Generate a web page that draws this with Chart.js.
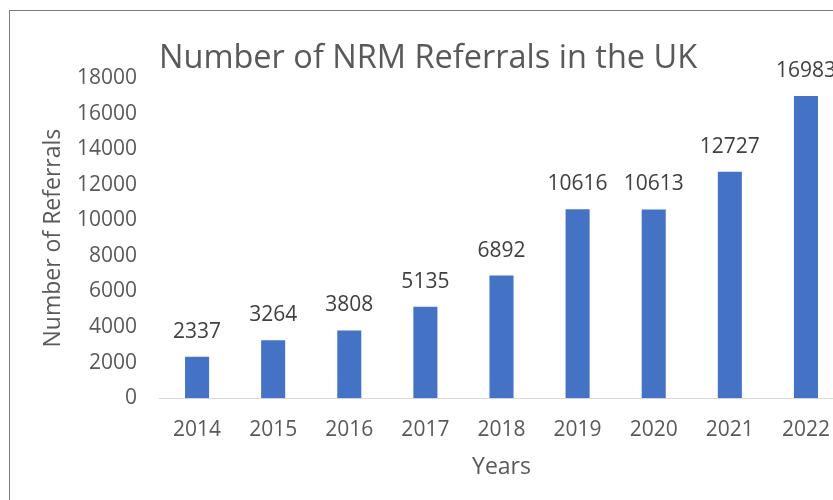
<!DOCTYPE html>
<html>
<head>
<meta charset="utf-8">
<script src="https://cdn.jsdelivr.net/npm/chart.js@4"></script>
<style>
  html, body { margin: 0; padding: 0; background: #fff; overflow: hidden; }
  #frame {
    position: absolute; left: 9px; top: 10px;
    width: 834px; height: 495px;
    border-left: 1px solid #7a7a7a; border-top: 1px solid #7a7a7a;
  }
</style>
</head>
<body>
<div id="frame"><canvas id="nrmChart" width="834" height="495"></canvas></div>
<script>
const years = ['2014', '2015', '2016', '2017', '2018', '2019', '2020', '2021', '2022'];
const referrals = [2337, 3264, 3808, 5135, 6892, 10616, 10613, 12727, 16983];
const yTicks = [0, 2000, 4000, 6000, 8000, 10000, 12000, 14000, 16000, 18000];

const FONT = '"Open Sans", "Liberation Sans", sans-serif';

// draws the value above each bar, like the excel data labels
const valueLabels = {
    id: 'valueLabels',
    afterDatasetsDraw(chart) {
        const ctx = chart.ctx;
        const meta = chart.getDatasetMeta(0);
        ctx.save();
        ctx.font = '21px ' + FONT;
        ctx.fillStyle = '#404040';
        ctx.textAlign = 'center';
        ctx.textBaseline = 'middle';
        meta.data.forEach((bar, i) => {
            ctx.fillText(String(referrals[i]), bar.x, bar.y - 25);
        });
        ctx.restore();
    }
};

const ctx = document.getElementById('nrmChart').getContext('2d');

const nrmChart = new Chart(ctx, {
    type: 'bar',
    data: {
        labels: years,
        datasets: [
            {
                label: 'Referrals',
                data: referrals,
                backgroundColor: '#4472C4',
                borderWidth: 0,
                categoryPercentage: 1,
                barPercentage: 0.316
            }
        ]
    },
    plugins: [valueLabels],
    options: {
        responsive: false,
        animation: false,
        layout: {
            padding: { left: 25, top: 0, right: 0, bottom: 0 }
        },
        plugins: {
            legend: { display: false },
            tooltip: { enabled: false },
            title: {
                display: true,
                text: 'Number of NRM Referrals in the UK',
                align: 'start',
                fullSize: false,
                color: '#595959',
                font: { family: FONT, size: 32.5, weight: 'normal' },
                padding: { top: 28, bottom: 0 }
            }
        },
        scales: {
            x: {
                grid: { display: false },
                border: { display: true, color: '#d9d9d9', width: 1 },
                ticks: {
                    color: '#595959',
                    font: { family: FONT, size: 21 },
                    padding: 11
                },
                title: {
                    display: true,
                    text: 'Years',
                    color: '#595959',
                    font: { family: FONT, size: 23 },
                    padding: { top: 0, bottom: 25 }
                }
            },
            y: {
                min: 0,
                max: 18000,
                afterBuildTicks(axis) {
                    axis.ticks = yTicks.map(v => ({ value: v }));
                },
                afterFit(axis) {
                    axis.width = 124;
                },
                grid: { display: false },
                border: { display: false },
                ticks: {
                    color: '#595959',
                    font: { family: FONT, size: 21 },
                    padding: 14,
                    callback: (v) => String(v)
                },
                title: {
                    display: true,
                    text: 'Number of Referrals',
                    color: '#595959',
                    font: { family: FONT, size: 23 },
                    padding: { top: 5, bottom: 0 }
                }
            }
        }
    }
});
</script>
</body>
</html>
